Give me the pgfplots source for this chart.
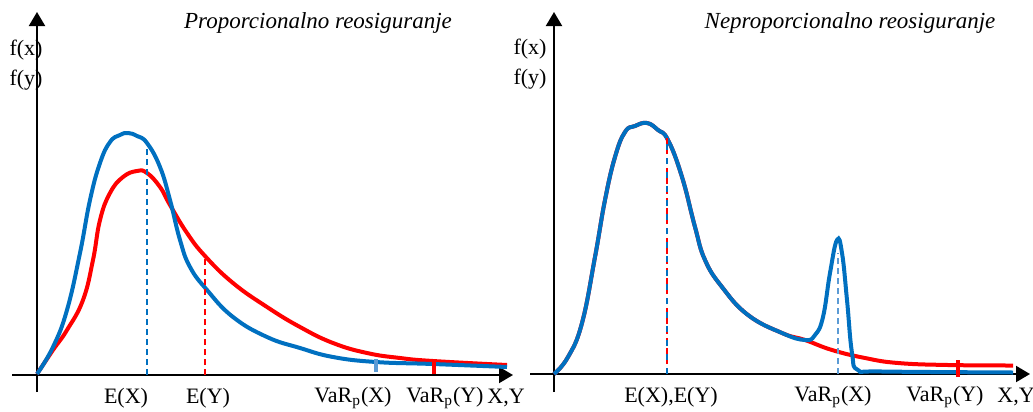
\documentclass[border=0pt]{standalone}
\usepackage{fontspec}
\setmainfont{Liberation Serif}
\usepackage{pgfplots}
\pgfplotsset{compat=1.18}
\usetikzlibrary{arrows.meta}
\definecolor{plava}{RGB}{0,112,192}
\definecolor{svplava}{RGB}{91,155,213}
\definecolor{crvena}{RGB}{255,0,0}
\pgfplotsset{
  panel/.style={x=0.5pt, y=0.5pt, axis lines=middle, clip=false,
    xtick=\empty, ytick=\empty,
    axis line style={line width=1pt, black, -{Triangle[length=7pt,width=8pt]}}},
}
\tikzset{
  kriva/.style={line width=2pt, smooth, tension=0.75},
  crt/.style={line width=1pt, dash pattern=on 3pt off 2pt},
  lab/.style={font=\fontsize{11}{13}\selectfont, inner sep=0pt},
  nasl/.style={font=\fontsize{11.5}{13}\selectfont\itshape, inner sep=0pt},
}
\begin{document}
\begin{tikzpicture}
\path[use as bounding box] (0,0) rectangle (516.5pt,-206pt);
% lijevi panel
\begin{axis}[panel, xmin=-25, xmax=476, ymin=-17, ymax=363,
  at={(6pt,-196pt)}, anchor=south west]
\addplot[kriva, crvena, no markers] coordinates {(0,1) (16,25) (30,45) (46,75) (56,115) (63,155) (73,182) (86,198) (100,204) (110,202) (123,188) (133,170) (150,142) (168,119) (196,92) (230,68) (263,48) (296,32) (330,22) (363,17) (396,14) (470,10)};
\addplot[kriva, plava, no markers] coordinates {(0,1) (16,28) (30,65) (43,122) (53,175) (63,212) (73,233) (83,240) (91,242) (100,239) (110,232) (123,208) (133,175) (143,135) (153,108) (170,85) (196,58) (230,38) (263,27) (296,18) (339,13) (396,11) (470,8)};
\addplot[crt, plava, no markers] coordinates {(110,0) (110,232)};
\addplot[crt, crvena, no markers] coordinates {(168,0) (168,119)};
\addplot[line width=2pt, svplava, no markers] coordinates {(339,3) (339,16)};
\addplot[line width=2pt, crvena, no markers] coordinates {(397,1) (397,15)};
\node[lab] at (axis cs:89,-23) {E(X)};
\node[lab] at (axis cs:171,-23) {E(Y)};
\node[lab] at (axis cs:316,-23) {VaR\textsubscript{p}(X)};
\node[lab] at (axis cs:408,-23) {VaR\textsubscript{p}(Y)};
\node[lab] at (axis cs:469,-23) {X,Y};
\node[lab] at (axis cs:-11,325) {f(x)};
\node[lab] at (axis cs:-11,295) {f(y)};
\node[nasl] at (axis cs:281,352) {Proporcionalno reosiguranje};
\end{axis}
% desni panel
\begin{axis}[panel, xmin=-24, xmax=476, ymin=-18, ymax=362,
  at={(265pt,-196pt)}, anchor=south west]
\addplot[kriva, crvena, no markers] coordinates {(0,0) (14,17) (28,51) (41,117) (51,174) (61,217) (71,242) (81,248) (93,251) (104,244) (114,234) (128,197) (141,147) (151,114) (168,87) (194,59) (228,41) (251,34) (278,24) (311,16) (344,11) (394,9) (459,8.5)};
\addplot[kriva, plava, no markers] coordinates {(0,0) (14,17) (28,51) (41,117) (51,174) (61,217) (71,242) (81,248) (93,251) (104,244) (114,234) (128,197) (141,147) (151,114) (168,87) (194,59) (228,41) (251,34) (261,39) (269,57) (276,101) (283,134) (288,121) (293,74) (298,21) (304,4) (328,2.5) (459,1.5)};
\addplot[crt, crvena, no markers] coordinates {(113,0) (113,237)};
\addplot[crt, plava, dash pattern=on 3pt off 4pt, no markers] coordinates {(113,0) (113,237)};
\addplot[crt, svplava, line width=1.2pt, no markers] coordinates {(284,0) (284,121)};
\addplot[line width=2pt, crvena, no markers] coordinates {(404,-3) (404,14)};
\node[lab] at (axis cs:117,-23) {E(X),E(Y)};
\node[lab] at (axis cs:279,-23) {VaR\textsubscript{p}(X)};
\node[lab] at (axis cs:391,-23) {VaR\textsubscript{p}(Y)};
\node[lab] at (axis cs:462,-23) {X,Y};
\node[lab] at (axis cs:-24,325) {f(x)};
\node[lab] at (axis cs:-24,295) {f(y)};
\node[nasl] at (axis cs:296,351) {Neproporcionalno reosiguranje};
\end{axis}
\end{tikzpicture}
\end{document}
